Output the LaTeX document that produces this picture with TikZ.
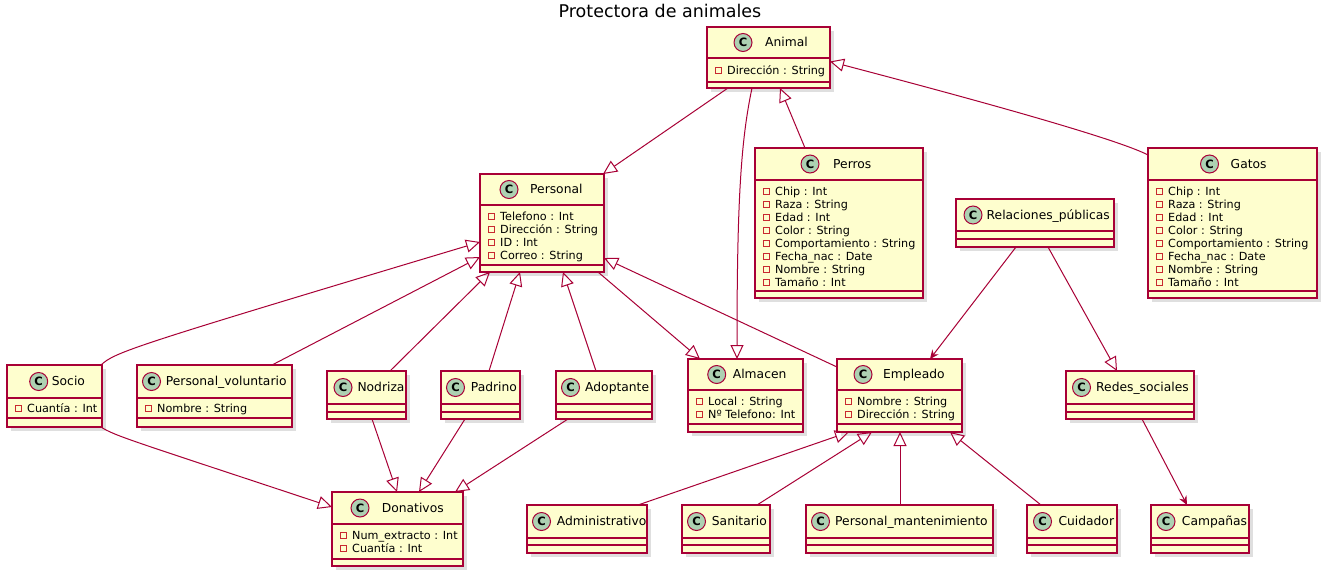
\documentclass[tikz,border=0pt]{standalone}
\usepackage{fontspec}
\setmainfont{DejaVu Sans}
\usetikzlibrary{arrows.meta,shadows}
\definecolor{umlred}{HTML}{A80036}
\definecolor{umlfill}{HTML}{FEFECE}
\definecolor{umlspot}{HTML}{ADD1B2}
\definecolor{umlvis}{HTML}{C82930}
\tikzset{
  cbox/.style={draw=umlred, fill=umlfill, line width=1.5pt, rectangle, inner sep=0pt, outer sep=0pt,
    drop shadow={shadow xshift=4pt, shadow yshift=-4pt, opacity=0.25}},
  cdiv/.style={draw=umlred, line width=1.5pt},
  cname/.style={inner sep=0pt, font=\fontsize{12.3}{14}\selectfont, anchor=base west},
  cattr/.style={inner sep=0pt, font=\fontsize{11.2}{13}\selectfont, anchor=base west},
  cspot/.style={circle, draw=umlred, fill=umlspot, line width=1pt, minimum size=18pt, inner sep=0pt,
    font=\bfseries\fontsize{11.5}{12}\selectfont},
  cvis/.style={rectangle, draw=umlvis, line width=0.9pt, minimum size=6pt, inner sep=0pt},
  ext/.style={draw=umlred, line width=1pt, -{Triangle[open, length=14pt, width=13pt]}},
  assoc/.style={draw=umlred, line width=1pt, -{Stealth[length=9pt, width=8pt, inset=3pt]}},
  ttl/.style={inner sep=0pt, font=\fontsize{17.5}{20}\selectfont, anchor=base},
}
% #1 name, #2 x1, #3 y1, #4 x2, #5 y2, #6 first divider, #7 second divider
\newcommand{\umlbox}[7]{%
  \node[cbox, anchor=north west, minimum width={(#4)-(#2)}, minimum height={(#5)-(#3)}] (#1) at (#2,#3) {};
  \draw[cdiv] (#2,#6) -- (#4,#6) (#2,#7) -- (#4,#7);
}
% #1 name, #2 circle x, #3 text x, #4 y1, #5 divider, #6 label
\newcommand{\umlhead}[6]{%
  \node[cname] (#1-n) at ({#3},{((#4)+(#5))/2+4.4}) {#6};
  \node[cspot] (#1-c) at ({#2},{((#4)+(#5))/2}) {C};
}
% #1 name, #2 x1, #3 first row y, #4 list
\newcommand{\umlattrs}[4]{%
  \foreach \t [count=\i from 0] in {#4} {
    \node[cvis] (#1-v\i) at ({(#2)+11.5},{(#3)+13*\i}) {};
    \node[cattr] (#1-a\i) at ({(#2)+20},{(#3)+13*\i+4}) {\t};
  }
}
\begin{document}
\begin{tikzpicture}[x=1pt,y=-1pt]
\fill[white] (0,0) rectangle (1329,579);
\useasboundingbox (0,0) rectangle (1329,579);

\node[ttl] (title) at (660,17) {Protectora de animales};

% Animal
\umlbox{Animal}{707}{27}{830}{88}{58}{82}
\umlhead{Animal}{743}{765}{27}{58}{Animal}
\umlattrs{Animal}{707}{70}{Dirección : String}

% Personal
\umlbox{Personal}{480}{174}{604}{272}{205}{265}
\umlhead{Personal}{509}{530}{174}{205}{Personal}
\umlattrs{Personal}{480}{216.5}{Telefono : Int, Dirección : String, ID : Int, Correo : String}

% Perros
\umlbox{Perros}{755}{148}{923}{298}{180}{291}
\umlhead{Perros}{810}{833}{148}{180}{Perros}
\umlattrs{Perros}{755}{191}{Chip : Int, Raza : String, Edad : Int, Color : String, Comportamiento : String, Fecha\_nac : Date, Nombre : String, Tamaño : Int}

% Gatos
\umlbox{Gatos}{1148}{148}{1317}{298}{180}{291}
\umlhead{Gatos}{1209.5}{1230.5}{148}{180}{Gatos}
\umlattrs{Gatos}{1148}{191}{Chip : Int, Raza : String, Edad : Int, Color : String, Comportamiento : String, Fecha\_nac : Date, Nombre : String, Tamaño : Int}

% Relaciones_publicas
\umlbox{Relaciones}{956}{199}{1114}{247}{231}{239}
\umlhead{Relaciones}{973}{986.5}{199}{231}{Relaciones\_públicas}

% Socio
\umlbox{Socio}{7}{365}{102}{427}{398}{418}
\umlhead{Socio}{38.7}{51.7}{365}{398}{Socio}
\umlattrs{Socio}{7}{408.5}{Cuantía : Int}

% Personal_voluntario
\umlbox{PVol}{137}{365}{292}{427}{398}{418}
\umlhead{PVol}{151.5}{165.7}{365}{398}{Personal\_voluntario}
\umlattrs{PVol}{137}{408.5}{Nombre : String}

% Nodriza, Padrino, Adoptante
\umlbox{Nodriza}{327}{371}{406}{419}{404}{412}
\umlhead{Nodriza}{343}{357.3}{371}{404}{Nodriza}
\umlbox{Padrino}{441}{371}{520}{419}{404}{412}
\umlhead{Padrino}{455.5}{470.7}{371}{404}{Padrino}
\umlbox{Adoptante}{556}{371}{652}{419}{404}{412}
\umlhead{Adoptante}{570.5}{585}{371}{404}{Adoptante}

% Almacen
\umlbox{Almacen}{688}{359}{803}{432}{390}{424}
\umlhead{Almacen}{716.7}{732.7}{359}{390}{Almacen}
\umlattrs{Almacen}{688}{401}{Local : String, Nº Telefono: Int}

% Empleado
\umlbox{Empleado}{837}{359}{962}{432}{390}{424}
\umlhead{Empleado}{863}{883}{359}{390}{Empleado}
\umlattrs{Empleado}{837}{401}{Nombre : String, Dirección : String}

% Redes_sociales
\umlbox{Redes}{1066}{371}{1194}{419}{404}{412}
\umlhead{Redes}{1081.5}{1096}{371}{404}{Redes\_sociales}

% Donativos
\umlbox{Donativos}{332}{492}{463}{566}{524}{559}
\umlhead{Donativos}{360}{381.7}{492}{524}{Donativos}
\umlattrs{Donativos}{332}{535}{Num\_extracto : Int, Cuantía : Int}

% Bottom row
\umlbox{Administrativo}{527}{505}{647}{553}{538}{545}
\umlhead{Administrativo}{541.5}{556.7}{505}{538}{Administrativo}
\umlbox{Sanitario}{682}{505}{770}{553}{538}{545}
\umlhead{Sanitario}{696.5}{711.7}{505}{538}{Sanitario}
\umlbox{PMant}{806}{505}{993}{553}{538}{545}
\umlhead{PMant}{820.5}{835}{505}{538}{Personal\_mantenimiento}
\umlbox{Cuidador}{1027}{505}{1117}{553}{538}{545}
\umlhead{Cuidador}{1042.5}{1058.3}{505}{538}{Cuidador}
\umlbox{Campanas}{1151}{505}{1249}{553}{538}{545}
\umlhead{Campanas}{1166}{1181.7}{505}{538}{Campañas}

% Connectors
\draw[ext] ([xshift=21pt]Animal.south west) -- ([xshift=-1pt]Personal.north east);
\draw[ext] ([xshift=45pt]Animal.south west) .. controls (741,140) and (737,200) .. ([xshift=49pt]Almacen.north west);
\draw[ext] ([xshift=50pt]Perros.north west) -- ([xshift=73pt]Animal.south west);
\draw[ext] ([yshift=-7pt]Gatos.north west) .. controls (1110,135) and (900,80) .. ([yshift=-4pt]Animal.east);
\draw[ext] ([xshift=-1pt]Socio.north east) .. controls (115,352) and (130,347) .. ([yshift=-19pt]Personal.west);
\draw[ext] ([xshift=-20pt]PVol.north east) -- ([yshift=-34pt]Personal.west);
\draw[ext] ([xshift=-16pt]Nodriza.north east) -- ([xshift=10pt]Personal.south west);
\draw[ext] ([xshift=48pt]Padrino.north west) -- ([xshift=40pt]Personal.south west);
\draw[ext] ([xshift=40pt]Adoptante.north west) -- ([xshift=83pt]Personal.south west);
\draw[ext] ([xshift=-6pt]Personal.south east) -- ([xshift=12pt]Almacen.north west);
\draw[ext] ([yshift=-8pt]Empleado.north west) -- ([yshift=-35pt]Personal.east);
\draw[assoc] ([xshift=60pt]Relaciones.south west) -- ([xshift=93pt]Empleado.north west);
\draw[ext] ([xshift=92pt]Relaciones.south west) -- ([xshift=51pt]Redes.north west);
\draw[assoc] ([xshift=76pt]Redes.south west) -- ([xshift=36pt]Campanas.north west);
\draw[ext] ([xshift=-1pt]Socio.south east) .. controls (115,436) and (130,440) .. ([yshift=22pt]Donativos.west);
\draw[ext] ([xshift=45pt]Nodriza.south west) -- ([xshift=65pt]Donativos.north west);
\draw[ext] ([xshift=24pt]Padrino.south west) -- ([xshift=87pt]Donativos.north west);
\draw[ext] ([xshift=12pt]Adoptante.south west) -- ([xshift=123pt]Donativos.north west);
\draw[ext] ([xshift=-9pt]Administrativo.north east) -- ([xshift=12pt]Empleado.south west);
\draw[ext] ([xshift=75pt]Sanitario.north west) -- ([xshift=35pt]Empleado.south west);
\draw[ext] ([xshift=94pt]PMant.north west) -- ([xshift=63pt]Empleado.south west);
\draw[ext] ([xshift=14pt]Cuidador.north west) -- ([xshift=-12pt]Empleado.south east);
\end{tikzpicture}
\end{document}
